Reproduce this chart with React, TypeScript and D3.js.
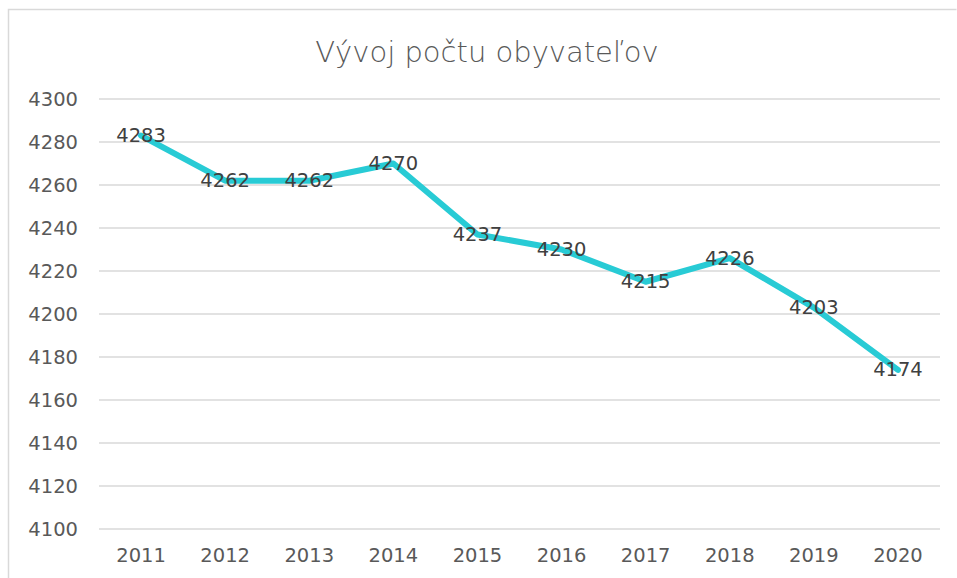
import * as d3 from "d3";

const years = ["2011", "2012", "2013", "2014", "2015", "2016", "2017", "2018", "2019", "2020"];
const population = [4283, 4262, 4262, 4270, 4237, 4230, 4215, 4226, 4203, 4174];
const yTicks = [4100, 4120, 4140, 4160, 4180, 4200, 4220, 4240, 4260, 4280, 4300];
const title = "Vývoj počtu obyvateľov";

const width = 957;
const height = 578;
const plot = { left: 99, right: 940, top: 99, bottom: 529 };
const font = "'Century Gothic', 'DejaVu Sans', sans-serif";
const textColor = "#595959";
const lineColor = "#28CBD5";
const labelSize = 19.5;

export default function App() {
  const x = d3.scaleBand().domain(years).range([plot.left, plot.right]);
  const y = d3.scaleLinear().domain([4100, 4300]).range([plot.bottom, plot.top]);
  const cx = (yr: string) => (x(yr) ?? 0) + x.bandwidth() / 2;

  const line = d3
    .line<number>()
    .x((_, i) => cx(years[i]))
    .y((d) => y(d));

  return (
    <svg
      width={width}
      height={height}
      style={{ position: "absolute", left: 0, top: 0, fontFamily: font }}
    >
      <rect width={width} height={height} fill="#fff" />
      <path
        d={`M8.5,${height} V9.5 H956.5`}
        fill="none"
        stroke="#d9d9d9"
        strokeWidth={1.5}
      />
      <text
        x={487}
        y={62}
        textAnchor="middle"
        fontSize={29}
        fill={textColor}
        style={{ fontWeight: 300 }}
      >
        {title}
      </text>
      {yTicks.map((t) => (
        <g key={t}>
          <line x1={plot.left} x2={plot.right} y1={y(t)} y2={y(t)} stroke="#d9d9d9" strokeWidth={1.5} />
          <text
            x={78}
            y={y(t)}
            textAnchor="end"
            dominantBaseline="central"
            fontSize={labelSize}
            fill={textColor}
          >
            {t}
          </text>
        </g>
      ))}
      {years.map((yr) => (
        <text
          key={yr}
          x={cx(yr)}
          y={555}
          textAnchor="middle"
          dominantBaseline="central"
          fontSize={labelSize}
          fill={textColor}
        >
          {yr}
        </text>
      ))}
      <path
        d={line(population) ?? ""}
        fill="none"
        stroke={lineColor}
        strokeWidth={6}
        strokeLinejoin="round"
        strokeLinecap="round"
      />
      {population.map((v, i) => (
        <text
          key={years[i]}
          x={cx(years[i])}
          y={y(v)}
          textAnchor="middle"
          dominantBaseline="central"
          fontSize={labelSize}
          fill="#404040"
        >
          {v}
        </text>
      ))}
    </svg>
  );
}
